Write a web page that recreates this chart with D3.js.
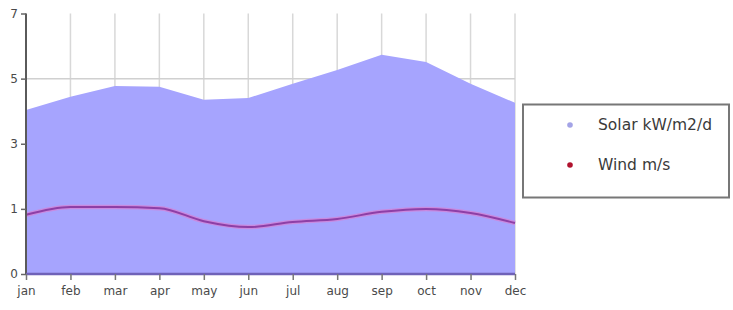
<!DOCTYPE html>
<html>
<head>
<meta charset="utf-8">
<script src="https://cdn.jsdelivr.net/npm/d3@7"></script>
<style>
	body { margin: 0; background: #fff; }
	svg { display: block; }
</style>
</head>
<body>
<div id="chart"></div>
<script>

	//----------------------------
	// Data
	//----------------------------

	var months = ["jan", "feb", "mar", "apr", "may", "jun", "jul", "aug", "sep", "oct", "nov", "dec"];
	var solar = [4.41, 4.76, 5.05, 5.03, 4.68, 4.73, 5.11, 5.48, 5.89, 5.70, 5.11, 4.60];
	var wind = [1.59, 1.80, 1.80, 1.77, 1.42, 1.26, 1.40, 1.48, 1.67, 1.75, 1.64, 1.37];
	var yTicks = [0, 1.75, 3.5, 5.25, 7];
	var legendLabels = ["Solar kW/m2/d", "Wind m/s"];

	//----------------------------
	// Layout
	//----------------------------

	var totwidth = 733,
		totheight = 310,
		paddingLeft = 26,
		plotRight = 515,
		paddingTop = 13.5,
		plotBottom = 274;

	var solarFill = "#a6a4fe",
		windStroke = "#8e3fa6",
		windGlow = "#c98ae0",
		solarDot = "#a3a3e6",
		windDot = "#b0122e",
		labelFont = "DejaVu Sans, sans-serif";

	var svg = d3.select("#chart").append("svg")
		.attr("width", totwidth)
		.attr("height", totheight);

	// Scales

	var x = d3.scalePoint()
		.domain(months)
		.range([paddingLeft, plotRight]);

	var y = d3.scaleLinear()
		.domain([0, 7])
		.range([plotBottom, paddingTop]);

	// Gridlines (drawn first, the area covers most of them)

	svg.append("g")
		.attr("class", "vgrid")
		.selectAll("line").data(months).enter().append("line")
			.attr("x1", function(d) { return x(d); })
			.attr("x2", function(d) { return x(d); })
			.attr("y1", y(7))
			.attr("y2", plotBottom)
			.attr("stroke", "#d8d8d8")
			.attr("stroke-width", 1.5);

	svg.append("g")
		.attr("class", "hgrid")
		.selectAll("line").data(yTicks.slice(1, 4)).enter().append("line")
			.attr("x1", paddingLeft)
			.attr("x2", plotRight)
			.attr("y1", function(d) { return y(d); })
			.attr("y2", function(d) { return y(d); })
			.attr("stroke", "#d0d0d0")
			.attr("stroke-width", 1.5);

	// Solar area

	var area = d3.area()
		.x(function(d, i) { return x(months[i]); })
		.y0(y(0))
		.y1(function(d) { return y(d); });

	svg.append("path")
		.datum(solar)
		.attr("fill", solarFill)
		.attr("d", area);

	// Wind line, soft pink halo under a purple core

	var line = d3.line()
		.x(function(d, i) { return x(months[i]); })
		.y(function(d) { return y(d); })
		.curve(d3.curveMonotoneX);

	svg.append("path")
		.datum(wind)
		.attr("fill", "none")
		.attr("stroke", windGlow)
		.attr("stroke-width", 4.5)
		.attr("d", line);

	svg.append("path")
		.datum(wind)
		.attr("fill", "none")
		.attr("stroke", windStroke)
		.attr("stroke-width", 2)
		.attr("d", line);

	// Axes

	var yAxis = d3.axisLeft(y)
		.tickValues(yTicks)
		.tickFormat(function(d) { return Math.floor(d); })
		.tickSize(5)
		.tickPadding(3);

	var gy = svg.append("g")
		.attr("class", "y-axis")
		.attr("transform", "translate(" + paddingLeft + ",0)")
		.call(yAxis);

	gy.select(".domain")
		.attr("stroke", "#5a5a5a")
		.attr("stroke-width", 2)
		.attr("d", "M0," + y(7) + "V" + y(0));
	gy.selectAll(".tick line").attr("stroke", "#666").attr("stroke-width", 1.5);
	gy.selectAll(".tick text")
		.attr("fill", "#4a4a4a")
		.style("font-family", labelFont)
		.style("font-size", "12px");

	var xAxis = d3.axisBottom(x)
		.tickSize(6)
		.tickPadding(6);

	var gx = svg.append("g")
		.attr("class", "x-axis")
		.attr("transform", "translate(0," + plotBottom + ")")
		.call(xAxis);

	gx.select(".domain")
		.attr("stroke", "#6f62b8")
		.attr("stroke-width", 2.5)
		.attr("d", "M" + paddingLeft + ",0H" + plotRight);
	gx.selectAll(".tick line").attr("stroke", "#777").attr("stroke-width", 1.5);
	gx.selectAll(".tick text")
		.attr("fill", "#4a4a4a")
		.style("font-family", labelFont)
		.style("font-size", "12px");

	// Legend

	var legend = svg.append("g")
		.attr("class", "legend");

	legend.append("rect")
		.attr("x", 523)
		.attr("y", 104.5)
		.attr("width", 206)
		.attr("height", 93)
		.attr("fill", "#fff")
		.attr("stroke", "#777")
		.attr("stroke-width", 2);

	var legendColors = [solarDot, windDot];

	var item = legend.selectAll(".item").data(legendLabels).enter().append("g")
		.attr("class", "item")
		.attr("transform", function(d, i) { return "translate(570," + (125 + i * 40) + ")"; });

	item.append("circle")
		.attr("r", 2.8)
		.attr("fill", function(d, i) { return legendColors[i]; });

	item.append("text")
		.attr("x", 28)
		.attr("dy", "0.35em")
		.attr("fill", "#3a3a3a")
		.style("font-family", labelFont)
		.style("font-size", "15.5px")
		.text(function(d) { return d; });

</script>
</body>
</html>
